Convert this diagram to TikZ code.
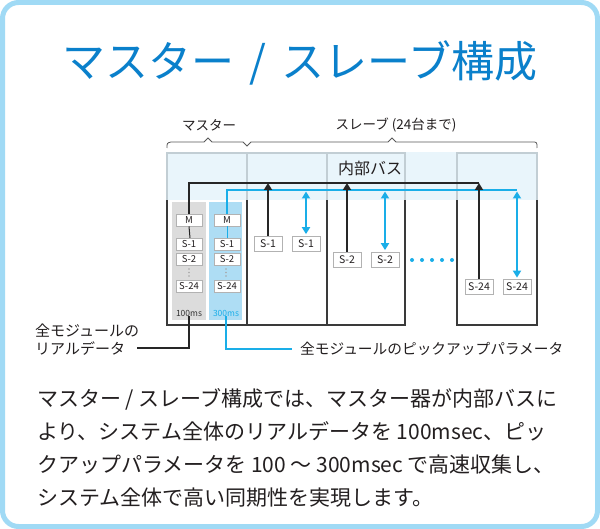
\documentclass[tikz,border=0pt]{standalone}
\usepackage{fontspec}
\setmainfont{Noto Sans CJK JP}
\usetikzlibrary{arrows.meta}

\definecolor{framecol}{HTML}{A0DAF5}
\definecolor{titlecol}{HTML}{0A80CB}
\definecolor{buscol}{HTML}{1AAEE8}
\definecolor{bandcol}{HTML}{E4F3FB}
\definecolor{colblue}{HTML}{AEDDF4}
\definecolor{colgray}{HTML}{DCDCDC}
\definecolor{unitcol}{HTML}{3A3A3A}
\definecolor{txtcol}{HTML}{231F20}

\begin{document}
\begin{tikzpicture}[x=1pt,y=-1pt,
	every node/.style={inner sep=0pt, text=txtcol},
	unit/.style={draw=unitcol, line width=1.1pt},
	mmod/.style={draw=gray!60, fill=white, line width=0.7pt, minimum width=26pt, minimum height=12pt, font=\fontsize{9.5}{9.5}\selectfont},
	smod/.style={mmod, minimum width=28pt, minimum height=15pt, font=\fontsize{10.5}{10.5}\selectfont},
	kline/.style={draw=black!85, line width=1.4pt},
	bline/.style={draw=buscol, line width=1.6pt},
	karrow/.style={kline, line width=2.4pt, -{Triangle[length=7pt,width=8pt]}},
	barrow/.style={bline, line width=1.8pt, {Triangle[length=7pt,width=8pt]}-{Triangle[length=7pt,width=8pt]}}
]
	% frame
	\fill[white] (0,0) rectangle (600,529);
	\useasboundingbox (0,0) rectangle (600,529);
	\draw[framecol, line width=5pt, rounded corners=16pt] (2.5,2.5) rectangle (597.5,526.5);

	% title
	\node[text=titlecol, font=\fontsize{43}{43}\selectfont] (title) at (300,63) {マスター\hspace{.35em}/\hspace{.35em}スレーブ構成};

	% braces
	\draw[gray!70!black, line width=0.8pt] (167,148) .. controls (167,143) .. (171,142) -- (204,142) -- (208,138) -- (212,142) -- (243,142) -- (247,146) -- (251,142) -- (388,142) -- (392,138) -- (396,142) -- (532,142) .. controls (537,142) .. (537,148);
	\node[font=\fontsize{13.5}{13.5}\selectfont] (mlabel) at (209,125) {マスター};
	\node[font=\fontsize{13.5}{13.5}\selectfont] (slabel) at (396,125) {スレーブ (24台まで)};

	% units
	\draw[unit] (167,153) rectangle (247,325);
	\draw[unit] (247,153) rectangle (327,325);
	\draw[unit] (327,153) rectangle (405,325);
	\draw[unit] (457,153) rectangle (537,325);
	\fill[bandcol, opacity=0.8] (166,152) rectangle (538,200);
	\node[font=\fontsize{16}{16}\selectfont] (bus) at (370,168) {内部バス};

	% master columns
	\fill[colgray] (172,202) rectangle (206,320);
	\fill[colblue] (209,202) rectangle (242,320);
	\foreach \y in {269,272.5,276} {
		\fill[gray!70] (189,\y) circle (0.8pt);
		\fill[gray!70] (226,\y) circle (0.8pt);
	}
	\node[font=\fontsize{8.5}{8.5}\selectfont, text=gray!40!black] (tk) at (189,313) {100ms};
	\node[font=\fontsize{8.5}{8.5}\selectfont, text=buscol] (tb) at (226,313) {300ms};

	% bus lines
	\coordinate (kend) at (479,183);
	\coordinate (bend) at (517,190);
	\node[mmod] (mk) at (189,220) {M};
	\node[mmod] (mb) at (227,220) {M};
	\draw[bline] (mb.north) |- (bend);
	\draw[kline] (mk.north) |- (kend);
	\draw[kline, line width=1pt] (mk.south) -- (190,238);
	\draw[bline, line width=1pt] (mb.south) -- (227,238);

	% master modules
	\node[mmod] (s1k) at (189,244) {S-1};
	\node[mmod] (s2k) at (189,259) {S-2};
	\node[mmod] (s24k) at (189,286.5) {S-24};
	\node[mmod] (s1b) at (227,244) {S-1};
	\node[mmod] (s2b) at (227,259) {S-2};
	\node[mmod] (s24b) at (227,286.5) {S-24};

	% slave modules
	\node[smod] (k1) at (268,243.5) {S-1};
	\node[smod] (b1) at (306,243.5) {S-1};
	\node[smod] (k2) at (347,259.5) {S-2};
	\node[smod] (b2) at (385,259.5) {S-2};
	\node[smod] (k24) at (479,287) {S-24};
	\node[smod] (b24) at (517,287) {S-24};
	\foreach \m in {b1,b2,b24}
		\draw[barrow, shorten <=1.5pt, shorten >=1.5pt] (\m.north |- bend) -- (\m.north);
	\foreach \m in {k1,k2,k24}
		\draw[karrow] (\m.north) -- (\m.north |- kend);
	\foreach \x in {412,422,...,452}
		\fill[buscol] (\x,260) circle (2pt);

	% labels
	\node[align=left, anchor=west, font=\fontsize{15}{18}\selectfont] (lblk) at (35,340) {全モジュールの\\リアルデータ};
	\coordinate (kfree) at (137,348);
	\draw[kline, line width=1.2pt] (tk.south) |- (kfree);
	\node[anchor=west, inner xsep=8pt, font=\fontsize{14.7}{14.7}\selectfont] (lblb) at (292,349) {全モジュールのピックアップパラメータ};
	\draw[bline, line width=1.4pt] (tb.south) |- (lblb.west);

	% description
	\node[anchor=north west, align=left, font=\fontsize{21}{33}\selectfont] (desc) at (37,388) {マスター / スレーブ構成では、マスター器が内部バスに\\より、システム全体のリアルデータを 100msec、ピッ\\クアップパラメータを 100 ～ 300msec で高速収集し、\\システム全体で高い同期性を実現します。};
\end{tikzpicture}
\end{document}
